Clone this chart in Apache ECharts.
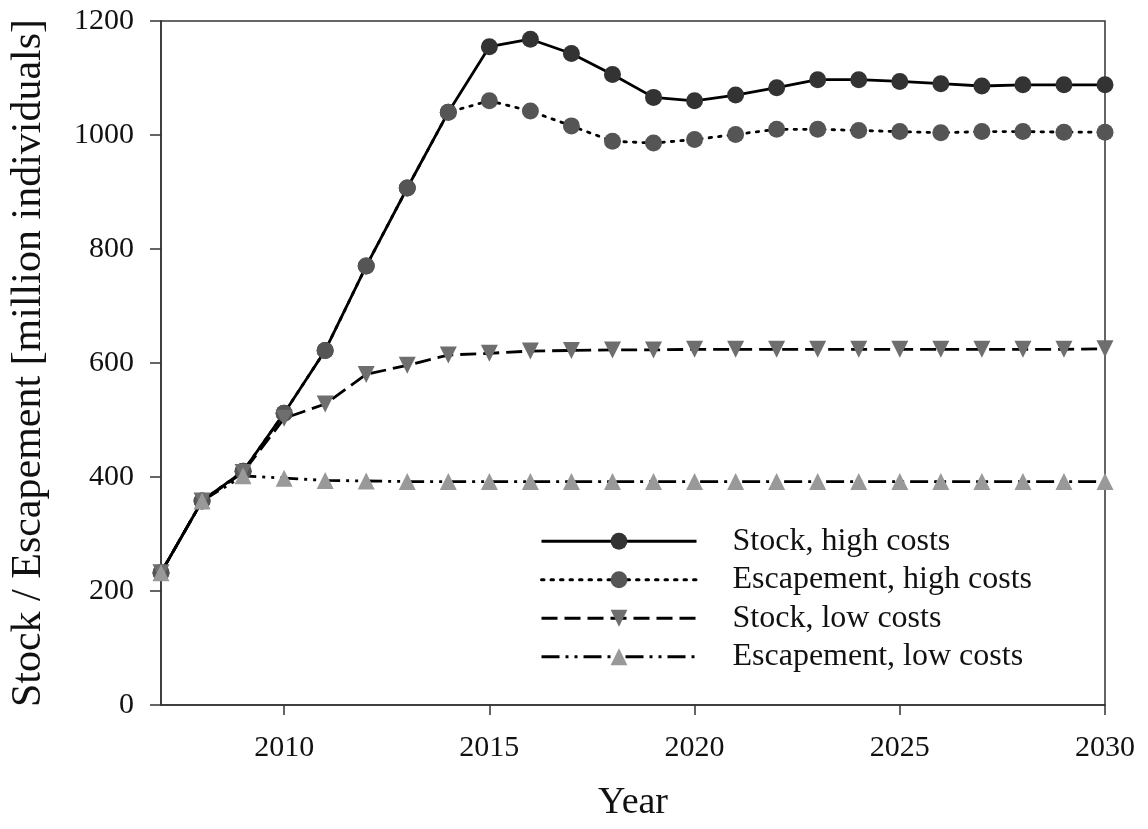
<!DOCTYPE html>
<html>
<head>
<meta charset="utf-8">
<script src="https://cdn.jsdelivr.net/npm/echarts@6/dist/echarts.min.js"></script>
<style>html,body{margin:0;padding:0;background:#fff}#c{width:1148px;height:829px}</style>
</head>
<body>
<div id="c"></div>
<script>
const years = [2007,2008,2009,2010,2011,2012,2013,2014,2015,2016,2017,2018,2019,2020,2021,2022,2023,2024,2025,2026,2027,2028,2029,2030];
const stockHigh = [232,358,410,512,622,770,907,1040,1155,1168,1143,1106,1066,1060,1070,1083,1097,1097,1094,1090,1086,1088,1088,1088];
const escHigh   = [232,358,410,512,622,770,907,1040,1060,1042,1016,989,986,992,1001,1010,1010,1008,1006,1004,1006,1006,1005,1005];
const stockLow  = [232,358,408,503,528,580,596,614,617,621,622,623,623,624,624,624,624,624,624,624,624,624,624,625];
const escLow    = [232,358,402,398,394,393,392,392,392,392,392,392,392,392,392,392,392,392,392,392,392,392,392,392];
const names = ['Stock, high costs','Escapement, high costs','Stock, low costs','Escapement, low costs'];
const xTicks = [2010,2015,2020,2025,2030];

const pair = arr => years.map((y,i)=>[y,arr[i]]);
const font = '"Liberation Serif","Times New Roman",serif';

const chart = echarts.init(document.getElementById('c'));
chart.setOption({
  animation:false,
  backgroundColor:'#fff',
  grid:{left:160,right:43,top:21,bottom:124,show:true,borderColor:'#333',borderWidth:1.5,backgroundColor:'transparent'},
  legend:{
    left:535, top:520, orient:'vertical', itemWidth:155, itemHeight:21, itemGap:6,
    lineStyle:{width:3},
    textStyle:{fontFamily:font,fontSize:32,lineHeight:32.5,color:'#111',padding:[0,0,0,31]},
    data:names
  },
  xAxis:{
    type:'value', min:2007, max:2030,
    name:'Year', nameLocation:'middle', nameGap:79,
    nameTextStyle:{fontFamily:font,fontSize:38,color:'#111'},
    axisLine:{lineStyle:{color:'#333',width:1.5}},
    axisTick:{show:true,length:10,inside:false,customValues:xTicks,lineStyle:{color:'#333',width:1.5}},
    axisLabel:{customValues:xTicks,fontFamily:font,fontSize:30,color:'#111',margin:28,formatter:v=>String(v)},
    splitLine:{show:false}
  },
  yAxis:{
    type:'value', min:0, max:1200, interval:200,
    name:'Stock / Escapement [million individuals]', nameLocation:'middle', nameGap:111,
    nameTextStyle:{fontFamily:font,fontSize:42,color:'#111'},
    axisLine:{show:true,lineStyle:{color:'#333',width:1.5}},
    axisTick:{show:true,length:11,inside:false,lineStyle:{color:'#333',width:1.5}},
    axisLabel:{fontFamily:font,fontSize:30,color:'#111',margin:27,formatter:v=>String(v)},
    splitLine:{show:false}
  },
  series:[
    {name:names[0],type:'line',data:pair(stockHigh),symbol:'circle',symbolSize:17,
     itemStyle:{color:'#333'},lineStyle:{color:'#000',width:2.8,type:'solid'}},
    {name:names[1],type:'line',data:pair(escHigh),symbol:'circle',symbolSize:17,
     itemStyle:{color:'#555'},lineStyle:{color:'#000',width:2.8,type:[2.5,7],cap:'round'}},
    {name:names[2],type:'line',data:pair(stockLow),symbol:'triangle',symbolRotate:180,symbolSize:17,
     itemStyle:{color:'#6e6e6e'},lineStyle:{color:'#000',width:2.8,type:[16,7]}},
    {name:names[3],type:'line',data:pair(escLow),symbol:'triangle',symbolSize:17,
     itemStyle:{color:'#999'},lineStyle:{color:'#000',width:2.8,type:[18,6,3,6,3,6]}}
  ]
});
</script>
</body>
</html>
